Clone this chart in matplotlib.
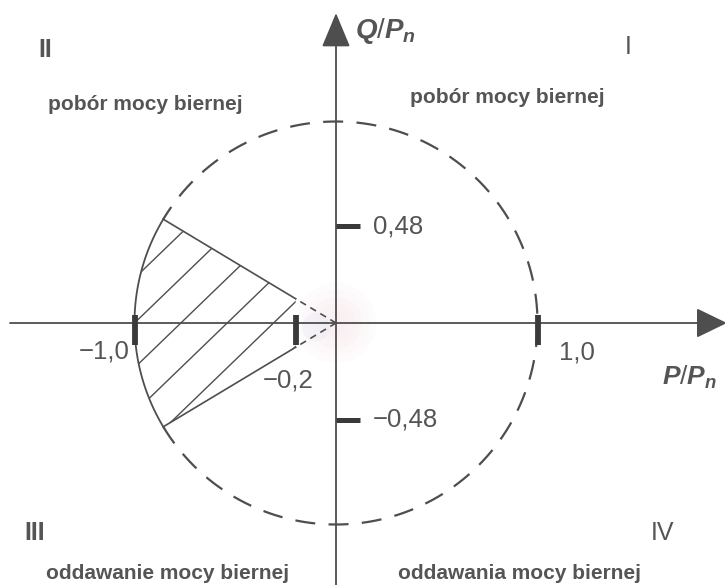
# -*- coding: utf-8 -*-

import numpy as np
import matplotlib
matplotlib.use("Agg")
import matplotlib.pyplot as plt
from matplotlib.patches import Polygon, Circle

# values
p_ticks = [-1.0, -0.2, 1.0]
p_tick_labels = ["\u22121,0", "\u22120,2", "1,0"]
q_ticks = [0.48, -0.48]
q_tick_labels = ["0,48", "\u22120,48"]
circle_radius = 1.0
sector_half_angle = 31.0  # degrees, measured around the -P axis
p_inner = -0.2            # inner limit of the hatched area
quadrant_names = ["I", "II", "III", "IV"]
quadrant_texts = ["pobór mocy biernej", "pobór mocy biernej",
                  "oddawanie mocy biernej", "oddawania mocy biernej"]

LINE = "#4e4e4e"
TEXT = "#555555"

plt.rcParams["mathtext.fontset"] = "custom"
plt.rcParams["mathtext.it"] = "Liberation Sans:italic:bold"
plt.rcParams["mathtext.rm"] = "Liberation Sans"
plt.rcParams["font.family"] = ["Liberation Sans", "DejaVu Sans"]

fig = plt.figure(figsize=(7.25, 5.85), dpi=100)
ax = fig.add_axes([0, 0, 1, 1])
ax.set_xlim(-1.6675, 1.9305)
ax.set_ylim(-1.3002, 1.603)
ax.axis("off")

# faint colour blotch of the scan around the origin
for r in np.linspace(0.2, 0.06, 5):
    ax.add_patch(Circle((0, 0), r, color="#f4d3da", alpha=0.07, lw=0, zorder=0))
ax.add_patch(Circle((-0.1, -0.02), 0.07, color="#dfe8f5", alpha=0.3, lw=0, zorder=0))

# axes with arrows
ax.annotate("", xy=(1.94, 0), xytext=(-1.618, 0), annotation_clip=False,
            arrowprops=dict(arrowstyle="-|>,head_length=0.97,head_width=0.47",
                            mutation_scale=20, color=LINE, lw=1.3,
                            shrinkA=0, shrinkB=0), zorder=3)
ax.annotate("", xy=(0, 1.538), xytext=(0, -1.32), annotation_clip=False,
            arrowprops=dict(arrowstyle="-|>,head_length=1.08,head_width=0.45",
                            mutation_scale=20, color=LINE, lw=1.3,
                            shrinkA=0, shrinkB=0), zorder=3)

# circle: solid on the hatched arc, dashed elsewhere
a = np.radians(sector_half_angle)
t_solid = np.linspace(np.pi - a, np.pi + a, 100)
ax.plot(circle_radius * np.cos(t_solid), circle_radius * np.sin(t_solid),
        color=LINE, lw=1.3, zorder=2)
t_dash = np.linspace(np.pi + a, 3 * np.pi - a, 500)
ax.plot(circle_radius * np.cos(t_dash), circle_radius * np.sin(t_dash),
        color=LINE, lw=1.6, dashes=(9, 6), zorder=2)

# sector borders
r_in = -p_inner / np.cos(a)
for s in (1, -1):
    ang = np.pi - s * a
    ax.plot([r_in * np.cos(ang), circle_radius * np.cos(ang)],
            [r_in * np.sin(ang), circle_radius * np.sin(ang)],
            color=LINE, lw=1.2, zorder=2)
    ax.plot([0, r_in * np.cos(ang)], [0, r_in * np.sin(ang)],
            color=LINE, lw=1.2, dashes=(4, 3), zorder=2)

# hatched area
t_arc = np.linspace(np.pi - a, np.pi + a, 100)
verts = [(p_inner, -p_inner * np.tan(a))]
verts += list(zip(circle_radius * np.cos(t_arc), circle_radius * np.sin(t_arc)))
verts += [(p_inner, p_inner * np.tan(a))]
region = Polygon(verts, closed=True, facecolor="none", edgecolor="none")
ax.add_patch(region)
slope = np.tan(np.radians(44))
xs = np.array([-1.2, 0.1])
for c in np.arange(-1.69, 0.0, 0.23):
    ln, = ax.plot(xs, slope * (xs - c), color=LINE, lw=1.0, zorder=2)
    ln.set_clip_path(region)

# thick tick marks
for p in p_ticks:
    ax.plot([p, p], [0.04, -0.11], color="#3a3a3a", lw=4.2,
            solid_capstyle="butt", zorder=4)
for q in q_ticks:
    ax.plot([0, 0.12], [q, q], color="#3a3a3a", lw=3.6,
            solid_capstyle="butt", zorder=4)

# tick labels
num = dict(fontsize=18.5, color=TEXT, va="center")
ax.text(-1.022, -0.139, p_tick_labels[0], ha="right", **num)
ax.text(-0.238, -0.283, p_tick_labels[1], ha="center", **num)
ax.text(1.107, -0.144, p_tick_labels[2], ha="left", **num)
ax.text(0.184, q_ticks[0], q_tick_labels[0], ha="left", **num)
ax.text(0.184, q_ticks[1], q_tick_labels[1], ha="left", **num)

# axis names
ax.text(0.094, 1.45, r"$\mathit{Q/P}_{\mathit{n}}$", fontsize=20, color=TEXT,
        ha="left", va="center")
ax.text(1.62, -0.27, r"$\mathit{P/P}_{\mathit{n}}$", fontsize=19, color=TEXT,
        ha="left", va="center")

# quadrants
roman = dict(fontsize=18, color=TEXT, ha="center", va="center")
ax.text(1.449, 1.37, quadrant_names[0], **roman)
ax.text(-1.444, 1.355, quadrant_names[1], fontweight="bold", **roman)
ax.text(-1.494, -1.04, quadrant_names[2], fontweight="bold", **roman)
ax.text(1.618, -1.04, quadrant_names[3], **roman)

label = dict(fontsize=15, color=TEXT, fontweight="bold", ha="left", va="center")
ax.text(0.367, 1.117, quadrant_texts[0], **label)
ax.text(-1.429, 1.082, quadrant_texts[1], **label)
ax.text(-1.44, -1.245, quadrant_texts[2], **label)
ax.text(0.308, -1.245, quadrant_texts[3], **label)

fig.savefig("out.png", dpi=100)
